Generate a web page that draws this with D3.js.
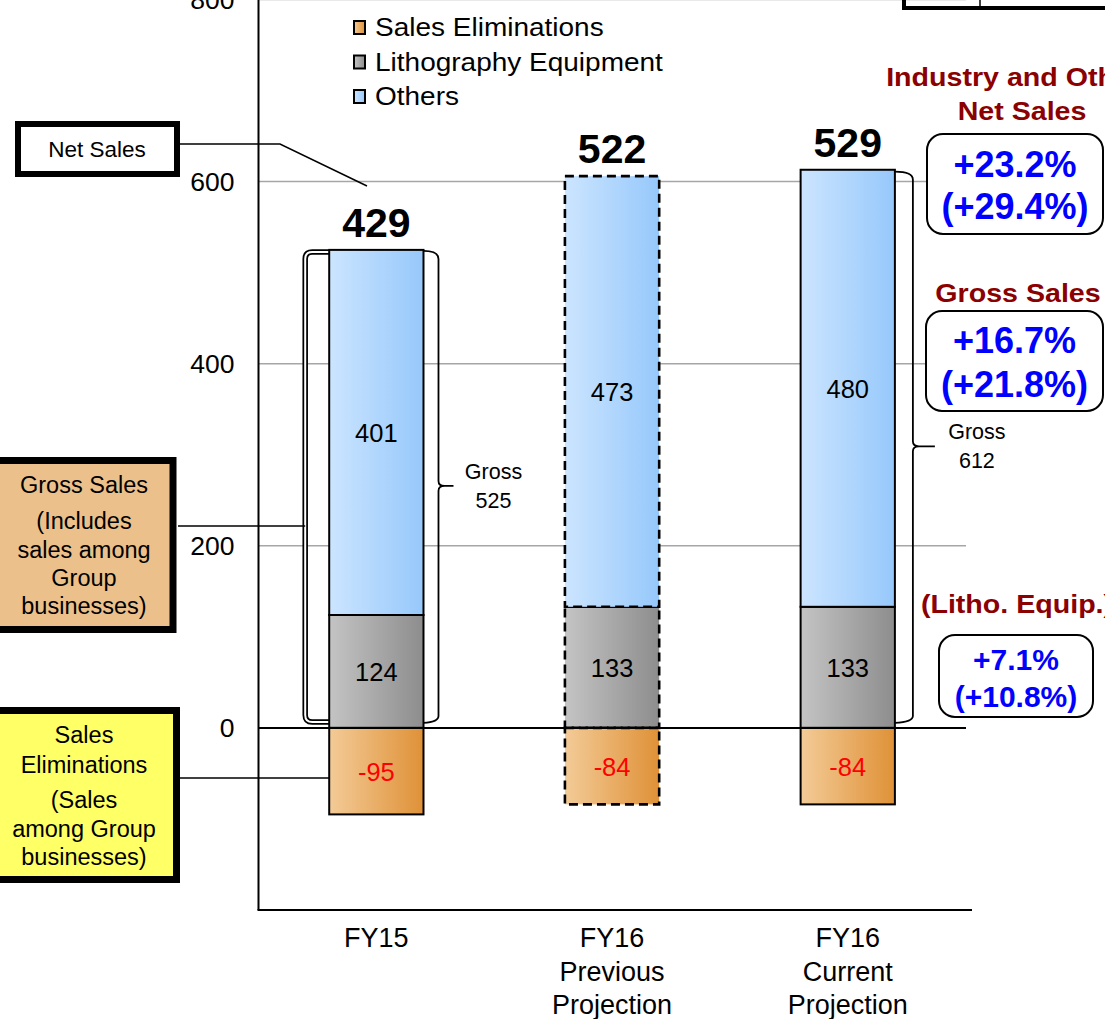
<!DOCTYPE html>
<html>
<head>
<meta charset="utf-8">
<script src="https://cdn.jsdelivr.net/npm/d3@7"></script>
<style>
  html, body { margin: 0; padding: 0; background: #fff; overflow: hidden; }
  svg { display: block; }
  text { font-family: "Liberation Sans", Arial, Helvetica, sans-serif; }
</style>
</head>
<body>
<svg id="chart" width="1105" height="1019"></svg>
<script>
// ---- data ----
const categories = ["FY15", "FY16 Previous", "FY16 Current"];
const categoryLines = [["FY15"], ["FY16", "Previous", "Projection"], ["FY16", "Current", "Projection"]];
const lithoValues = [124, 133, 133];
const otherValues = [401, 473, 480];
const eliminationValues = [-95, -84, -84];
const netSalesValues = [429, 522, 529];
const grossTotals = [525, null, 612];
const projectionFlags = [false, true, false];
const yTicks = [0, 200, 400, 600, 800];
const legendLabels = ["Sales Eliminations", "Lithography Equipment", "Others"];
const panelTitles = [["Industry and Others", "Net Sales"], ["Gross Sales"], ["(Litho. Equip.)"]];
const panelRates = [["+23.2%", "(+29.4%)"], ["+16.7%", "(+21.8%)"], ["+7.1%", "(+10.8%)"]];

const svg = d3.select("#chart");

// ---- scales ----
const x = d3.scaleBand().domain(categories).range([258.5, 965.6]).paddingInner(0.6).paddingOuter(0.3);
const y = d3.scaleLinear().domain([-200, 800]).range([910, -0.5]);
const bw = x.bandwidth();

// ---- gradients ----
const defs = svg.append("defs");
function grad(id, c0, c1) {
  const g = defs.append("linearGradient").attr("id", id).attr("x1", 0).attr("x2", 1).attr("y1", 0).attr("y2", 0);
  g.append("stop").attr("offset", "0%").attr("stop-color", c0);
  g.append("stop").attr("offset", "100%").attr("stop-color", c1);
}
grad("gOthers", "#cce5ff", "#96c8fb");
grad("gLitho", "#c4c4c4", "#8d8d8d");
grad("gElim", "#f3cb97", "#df9137");

// text helper with optional horizontal stretch
function label(parent, px, py, str, o = {}) {
  const g = parent.append("g").attr("transform", `translate(${px},${py}) scale(${o.sx || 1},1)`);
  g.append("text")
    .attr("text-anchor", o.anchor || "middle")
    .style("font-size", (o.size || 20) + "px")
    .style("font-weight", o.weight || "normal")
    .attr("fill", o.fill || "#000")
    .text(str);
  return g;
}

// ---- gridlines ----
svg.append("g").selectAll("line").data(yTicks.filter(d => d !== 0)).join("line")
  .attr("x1", 258.5).attr("x2", 966)
  .attr("y1", d => y(d)).attr("y2", d => y(d))
  .attr("stroke", "#a6a6a6").attr("stroke-width", 1.5);

// ---- y axis labels ----
const yAxis = svg.append("g").attr("transform", "translate(258.5,0)")
  .call(d3.axisLeft(y).tickValues(yTicks).tickSize(0).tickPadding(24));
yAxis.select(".domain").remove();
yAxis.selectAll("text").style("font-size", "26.5px").attr("fill", "#000")
  .style("font-family", '"Liberation Sans", Arial, sans-serif').attr("dy", "0.34em");

// ---- brackets around gross totals ----
const brk = svg.append("g").attr("fill", "none");
categories.forEach((c, i) => {
  const g = grossTotals[i];
  if (g == null) return;
  const x0 = x(c), x1 = x(c) + bw;
  const top = y(g) + 2, bot = y(0) - 6;
  const tip = y(g / 2) - 3;
  const xr = x1 + (i === 0 ? 15 : 18);
  if (i === 0) {
    const L = x0 - 24;
    const p = `M${x0},${top} H${L + 7} Q${L},${top} ${L},${top + 7} V${bot - 7} Q${L},${bot} ${L + 7},${bot} H${x0}`;
    brk.append("path").attr("d", p).attr("stroke", "#000").attr("stroke-width", 5.5);
    brk.append("path").attr("d", p).attr("stroke", "#fff").attr("stroke-width", 2);
  }
  const tipLen = i === 0 ? 15 : 22;
  const pr = `M${x1},${top - 1} Q${xr},${top - 1} ${xr},${top + 7} V${tip - 5} Q${xr},${tip} ${xr + 6},${tip} H${xr + tipLen}` +
             ` M${xr + 6},${tip} Q${xr},${tip} ${xr},${tip + 5} V${bot - 6} Q${xr},${bot} ${x1},${bot + 1}`;
  brk.append("path").attr("d", pr).attr("stroke", "#000").attr("stroke-width", 1.8);
  const lx = x1 + (i === 0 ? 70 : 82);
  label(svg, lx, tip - 7, "Gross", { size: 21.5 });
  label(svg, lx, tip + 22, String(g), { size: 21.5 });
});

// ---- stacked bars ----
const bars = svg.append("g");
categories.forEach((c, i) => {
  const x0 = x(c);
  const segs = [
    { y0: 0, y1: lithoValues[i], fill: "url(#gLitho)", val: lithoValues[i], color: "#000" },
    { y0: lithoValues[i], y1: lithoValues[i] + otherValues[i], fill: "url(#gOthers)", val: otherValues[i], color: "#000" },
    { y0: eliminationValues[i], y1: 0, fill: "url(#gElim)", val: eliminationValues[i], color: "#ff0000" }
  ];
  segs.forEach(s => {
    bars.append("rect")
      .attr("x", x0).attr("width", bw)
      .attr("y", y(s.y1)).attr("height", y(s.y0) - y(s.y1))
      .attr("fill", s.fill)
      .attr("stroke", "#000")
      .attr("stroke-width", projectionFlags[i] ? 2.6 : 2)
      .attr("stroke-dasharray", projectionFlags[i] ? "9,5" : null);
  });
  segs.forEach(s => {
    const cy = (y(s.y0) + y(s.y1)) / 2;
    label(svg, x0 + bw / 2, cy + 9.5, String(s.val), { size: 25.5, fill: s.color });
  });
  // net sales total above bar
  const topY = y(lithoValues[i] + otherValues[i]);
  label(svg, x0 + bw / 2, topY - 13, String(netSalesValues[i]), { size: 41, weight: "bold" });
});

// ---- zero line and axes ----
svg.append("line").attr("x1", 258.5).attr("x2", 966).attr("y1", y(0)).attr("y2", y(0))
  .attr("stroke", "#000").attr("stroke-width", 2);
svg.append("line").attr("x1", 258.5).attr("x2", 258.5).attr("y1", 0).attr("y2", y(-200))
  .attr("stroke", "#000").attr("stroke-width", 2);
svg.append("line").attr("x1", 257.5).attr("x2", 972).attr("y1", y(-200)).attr("y2", y(-200))
  .attr("stroke", "#000").attr("stroke-width", 2);

// ---- category labels (multi-line) ----
const xAxis = svg.append("g").attr("transform", `translate(0,${y(-200)})`)
  .call(d3.axisBottom(x).tickSize(0).tickPadding(0));
xAxis.select(".domain").remove();
xAxis.selectAll("text")
  .style("font-size", "27px").attr("fill", "#000")
  .style("font-family", '"Liberation Sans", Arial, sans-serif')
  .attr("y", null).attr("dy", null)
  .each(function (d, i) {
    const t = d3.select(this);
    t.text(null);
    categoryLines[i].forEach((ln, k) => {
      t.append("tspan").attr("x", 0).attr("y", 37 + k * 33.5).text(ln);
    });
  });

// ---- legend ----
const legendFills = ["url(#gElim)", "url(#gLitho)", "url(#gOthers)"];
legendLabels.forEach((t, i) => {
  const by = 36 + i * 34.5;
  svg.append("rect").attr("x", 354).attr("y", by - 15).attr("width", 11).attr("height", 13)
    .attr("fill", legendFills[i]).attr("stroke", "#000").attr("stroke-width", 2);
  label(svg, 375, by, t, { size: 25, anchor: "start", sx: 1.12 });
});

// ---- left callout boxes ----
const call = svg.append("g");
call.append("rect").attr("x", 18).attr("y", 124).attr("width", 159).attr("height", 50)
  .attr("fill", "#fff").attr("stroke", "#000").attr("stroke-width", 6);
label(call, 97, 157, "Net Sales", { size: 22.5 });
call.append("path").attr("d", `M180,144 H280 L367,186`).attr("fill", "none").attr("stroke", "#000").attr("stroke-width", 1.5);

call.append("rect").attr("x", -20).attr("y", 460.5).attr("width", 193).attr("height", 169)
  .attr("fill", "#ecc08b").attr("stroke", "#000").attr("stroke-width", 7);
[["Gross Sales", 493], ["(Includes", 529], ["sales among", 558], ["Group", 586], ["businesses)", 614]]
  .forEach(([t, by]) => label(call, 84, by, t, { size: 23.5 }));
call.append("line").attr("x1", 178).attr("x2", x(categories[0]) - 24).attr("y1", 526).attr("y2", 526)
  .attr("stroke", "#000").attr("stroke-width", 1.5);

call.append("rect").attr("x", -20).attr("y", 710.5).attr("width", 196.5).attr("height", 169)
  .attr("fill", "#ffff66").attr("stroke", "#000").attr("stroke-width", 7);
[["Sales", 743], ["Eliminations", 773], ["(Sales", 808], ["among Group", 837], ["businesses)", 865]]
  .forEach(([t, by]) => label(call, 84, by, t, { size: 23.5 }));
call.append("line").attr("x1", 179).attr("x2", x(categories[0])).attr("y1", 778).attr("y2", 778)
  .attr("stroke", "#000").attr("stroke-width", 1.5);

// ---- growth rate panels ----
const panel = svg.append("g");
const panelLayout = [
  { titleY: [86, 120], titleX: 1022, box: [927, 134, 176, 100], rateY: [177, 219], size: 36 },
  { titleY: [302], titleX: 1018, box: [926, 311, 177, 100], rateY: [353, 397], size: 36 },
  { titleY: [613], titleX: 1017, box: [939, 635, 154, 82], rateY: [670, 707], size: 30 }
];
panelLayout.forEach((p, i) => {
  panelTitles[i].forEach((t, k) => label(panel, p.titleX, p.titleY[k], t, { size: 26, weight: "bold", fill: "#8b0000", sx: 1.1 }));
  panel.append("rect").attr("x", p.box[0]).attr("y", p.box[1]).attr("width", p.box[2]).attr("height", p.box[3])
    .attr("rx", 16).attr("fill", "#fff").attr("stroke", "#000").attr("stroke-width", 2);
  panelRates[i].forEach((t, k) => label(panel, p.box[0] + p.box[2] / 2, p.rateY[k], t, { size: p.size, weight: "bold", fill: "#0000ff" }));
});

// ---- table fragment at top right ----
svg.append("rect").attr("x", 904).attr("y", -30).attr("width", 230).attr("height", 38)
  .attr("fill", "none").attr("stroke", "#000").attr("stroke-width", 4);
svg.append("line").attr("x1", 980).attr("x2", 980).attr("y1", 0).attr("y2", 8)
  .attr("stroke", "#000").attr("stroke-width", 1.5);
</script>
</body>
</html>
